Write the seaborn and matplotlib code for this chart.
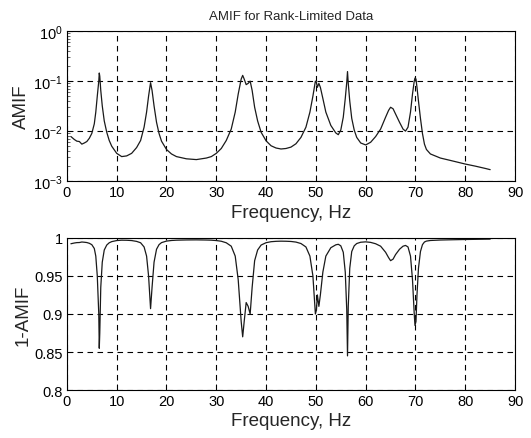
import numpy as np
import pandas as pd
import matplotlib
matplotlib.use("Agg")
import matplotlib.pyplot as plt
import matplotlib.ticker as mticker
import seaborn as sns

# ---- data ----
freq = [0.8, 1.5, 2.0, 2.5, 3.0, 3.5, 4.0, 4.5, 5.0, 5.5, 5.8, 6.1, 6.4, 6.5, 6.6, 6.8, 7.1, 7.5, 8.0,
        8.5, 9.0, 10.0, 11.0, 12.0, 13.0, 14.0, 14.8, 15.5, 16.0, 16.4, 16.8, 17.1, 17.5, 18.0, 18.5,
        19.0, 20.0, 21.0, 22.0, 24.0, 26.0, 28.0, 29.0, 30.0, 31.0, 32.0, 33.0, 33.8, 34.4, 35.0, 35.3,
        35.6, 36.0, 36.4, 36.8, 37.2, 37.7, 38.3, 39.0, 40.0, 41.0, 42.0, 43.0, 44.0, 45.0, 46.0, 47.0,
        48.0, 48.8, 49.4, 49.9, 50.1, 50.3, 50.6, 50.9, 51.4, 52.0, 53.0, 54.0, 54.5, 55.0, 55.5, 55.9,
        56.2, 56.35, 56.5, 56.8, 57.2, 57.7, 58.2, 59.0, 60.0, 61.0, 62.0, 63.0, 64.0, 64.6, 65.0, 65.5,
        66.0, 66.8, 67.5, 68.0, 68.5, 69.0, 69.4, 69.75, 69.9, 70.1, 70.3, 70.6, 71.0, 71.4, 71.8, 72.2,
        73.0, 75.0, 77.0, 80.0, 82.0, 84.0, 85.0]
amif = [0.0078, 0.0068, 0.0063, 0.0062, 0.0055, 0.0058, 0.0062, 0.0072, 0.0090, 0.014, 0.024, 0.05, 0.10, 0.145,
        0.125, 0.065, 0.032, 0.016, 0.0095, 0.0065, 0.0050, 0.0036, 0.0031, 0.0032, 0.0036, 0.0047, 0.0065, 0.012,
        0.024, 0.05, 0.093, 0.065, 0.032, 0.015, 0.009, 0.0063, 0.0043, 0.0035, 0.0031, 0.0028, 0.0027, 0.0029,
        0.0031, 0.0036, 0.0045, 0.0065, 0.011, 0.024, 0.055, 0.11, 0.13, 0.11, 0.085, 0.09, 0.10, 0.065, 0.03,
        0.016, 0.0095, 0.0064, 0.0051, 0.0046, 0.0044, 0.0045, 0.0048, 0.0056, 0.0075, 0.012, 0.024, 0.05, 0.10,
        0.095, 0.075, 0.09, 0.075, 0.045, 0.024, 0.013, 0.0092, 0.0085, 0.0105, 0.019, 0.045, 0.095, 0.155, 0.09,
        0.04, 0.018, 0.0105, 0.0075, 0.0058, 0.0053, 0.0060, 0.0078, 0.011, 0.019, 0.026, 0.030, 0.028, 0.022,
        0.015, 0.011, 0.010, 0.012, 0.024, 0.055, 0.10, 0.115, 0.11, 0.075, 0.04, 0.018, 0.009, 0.0055, 0.0043,
        0.0035, 0.0029, 0.0026, 0.0022, 0.0020, 0.0018, 0.0017]

title_text = "AMIF for Rank-Limited Data"
xlabel_text = "Frequency, Hz"
ylabel_top = "AMIF"
ylabel_bot = "1-AMIF"

df = pd.DataFrame({"freq": freq, "amif": amif})
df["one_minus"] = 1.0 - df["amif"]

sns.set_style("white")
plt.rcParams["font.family"] = ["Liberation Sans", "DejaVu Sans"]
plt.rcParams["xtick.direction"] = "in"
plt.rcParams["ytick.direction"] = "in"
plt.rcParams["axes.edgecolor"] = "black"
plt.rcParams["axes.linewidth"] = 0.8

fig = plt.figure(figsize=(5.31, 4.39), dpi=100)
ax1 = fig.add_axes([0.126, 0.585, 0.844, 0.342])
ax2 = fig.add_axes([0.126, 0.109, 0.844, 0.347])

line_kw = dict(color="#1a1a1a", linewidth=0.9, estimator=None, sort=False)
sns.lineplot(data=df, x="freq", y="amif", ax=ax1, **line_kw)
sns.lineplot(data=df, x="freq", y="one_minus", ax=ax2, **line_kw)

grid_kw = dict(color="black", linestyle=(0, (5, 4)), linewidth=0.8)

# top axes
ax1.set_yscale("log")
ax1.set_ylim(1e-3, 1e0)
ax1.set_xlim(0, 90)
ax1.set_xticks(range(0, 91, 10))
ax1.yaxis.set_major_locator(mticker.LogLocator(base=10, numticks=10))
ax1.yaxis.set_minor_locator(mticker.LogLocator(base=10, subs=np.arange(2, 10), numticks=20))
ax1.yaxis.set_minor_formatter(mticker.NullFormatter())
ax1.grid(True, which="major", **grid_kw)
ax1.grid(False, which="minor")
ax1.set_title(title_text, fontsize=9.5, pad=9)
ax1.set_xlabel(xlabel_text, fontsize=13.5, labelpad=3)
ax1.set_ylabel(ylabel_top, fontsize=13.5, labelpad=2)

# bottom axes
ax2.set_ylim(0.8, 1.0)
ax2.set_xlim(0, 90)
ax2.set_xticks(range(0, 91, 10))
ax2.set_yticks([0.8, 0.85, 0.9, 0.95, 1.0])
ax2.yaxis.set_major_formatter(mticker.FormatStrFormatter("%g"))
ax2.grid(True, which="major", **grid_kw)
ax2.set_xlabel(xlabel_text, fontsize=13.5, labelpad=3)
ax2.set_ylabel(ylabel_bot, fontsize=13.5, labelpad=2)

for ax in (ax1, ax2):
    ax.tick_params(axis="both", which="major", labelsize=10.5, length=4, width=0.6,
                   colors="black", pad=3, top=False, right=False, left=True, bottom=True)
    ax.tick_params(axis="y", which="minor", length=2, width=0.5, left=True)
    for s in ax.spines.values():
        s.set_visible(True)
        s.set_color("black")
    ax.set_facecolor("white")

fig.savefig("out.png", dpi=100, facecolor="white")
